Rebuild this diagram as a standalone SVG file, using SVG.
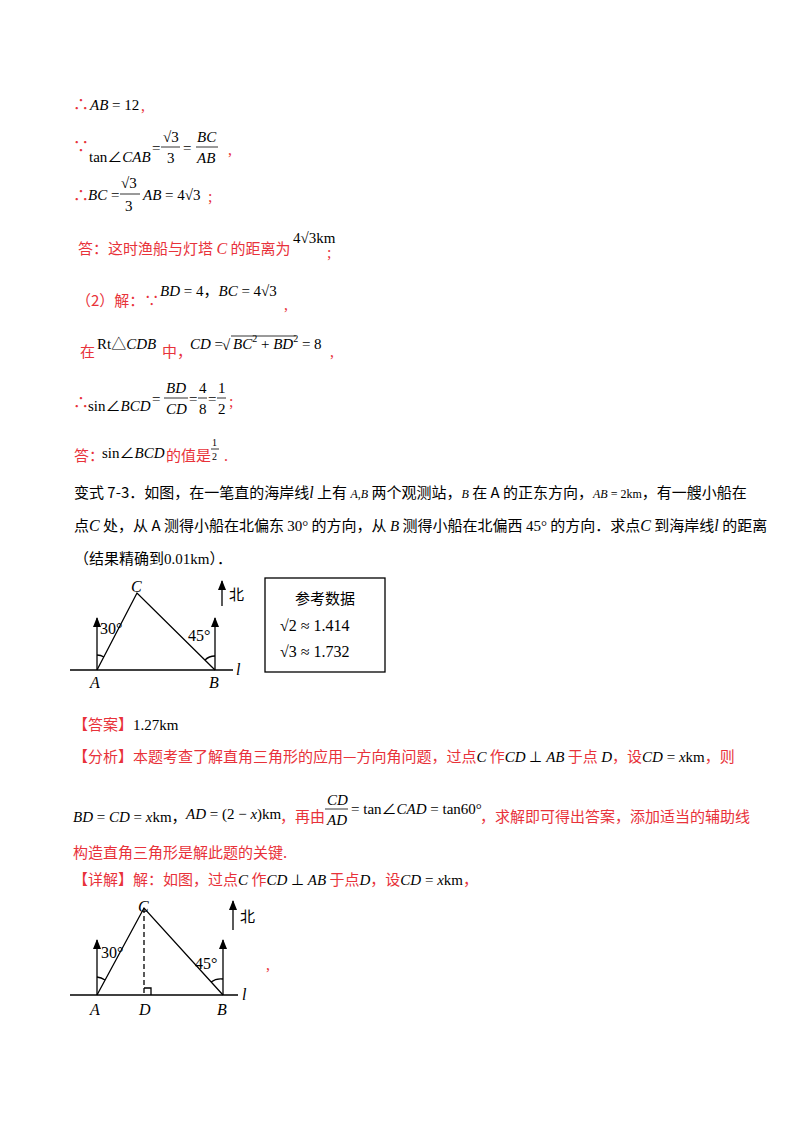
<svg xmlns="http://www.w3.org/2000/svg" width="800" height="1132" viewBox="0 0 800 1132">
<style>
text{font-family:"Liberation Serif","Noto Sans CJK SC",serif;font-size:16px;fill:#000}
.r{fill:#e8323a}
.i{font-style:italic}
.s{font-size:15px}
.k{font-size:10px}
.c{font-family:"Noto Sans CJK SC","Liberation Serif",serif;font-size:15px}
.ln{stroke:#000;stroke-width:1.3;fill:none}
.fb{stroke:#000;stroke-width:0.8}
</style>
<defs><marker id="ah" markerWidth="10" markerHeight="8" refX="9" refY="4" orient="auto" markerUnits="userSpaceOnUse"><path d="M0,0 L10,4 L0,8 Z" fill="#000"/></marker></defs>
<rect width="800" height="1132" fill="#fff"/>
<g id="solution1">
<text x="73" y="110" class="r">∴</text><text x="90" y="110" class="i s">AB</text><text x="112" y="110" class="s">= 12</text><text x="141" y="111" class="r">,</text>
<text x="73" y="152" class="r">∵</text><text x="89" y="162" class="s">tan∠<tspan class="i">CAB</tspan></text>
<text x="152" y="153" class="s">=</text><text x="163" y="142" class="s">√3</text><line x1="161" y1="147" x2="180" y2="147" class="fb"/><text x="167" y="163" class="s">3</text>
<text x="183" y="153" class="s">=</text><text x="197" y="142" class="s i">BC</text><line x1="196" y1="147" x2="218" y2="147" class="fb"/><text x="197" y="163" class="s i">AB</text><text x="228" y="155" class="r">,</text>
<text x="73" y="201" class="r">∴</text><text x="88" y="200" class="s"><tspan class="i">BC</tspan> =</text><text x="121" y="188" class="s">√3</text><line x1="120" y1="194" x2="140" y2="194" class="fb"/><text x="125" y="211" class="s">3</text><text x="143" y="200" class="s"><tspan class="i">AB</tspan> = 4√3</text><text x="208" y="202" class="r">;</text>
<text x="78" y="254" class="r c">答：这时渔船与灯塔 <tspan class="i" font-family="Liberation Serif" font-size="16">C</tspan> 的距离为</text><text x="293" y="243" class="s">4√3km</text><text x="327" y="258" class="r">;</text>
<text x="76" y="306" class="r c">（2）解：∵</text><text x="160" y="296" class="s"><tspan class="i">BD</tspan> = 4，<tspan class="i">BC</tspan> = 4√3</text><text x="284" y="310" class="r">,</text>
<text x="80" y="357" class="r c">在</text><text x="97" y="349" class="s">Rt△<tspan class="i">CDB</tspan></text><text x="162" y="357" class="r c">中，</text>
<text x="190" y="349" class="s"><tspan class="i">CD</tspan> =</text><text x="222" y="350" class="s" font-size="17">√</text><line x1="231" y1="336" x2="296" y2="336" class="fb"/><text x="233" y="349" class="s"><tspan class="i">BC</tspan><tspan class="k" dy="-7">2</tspan><tspan dy="7"> + </tspan><tspan class="i">BD</tspan><tspan class="k" dy="-7">2</tspan><tspan dy="7"> = 8</tspan></text><text x="330" y="357" class="r">,</text>
<text x="73" y="408" class="r">∴</text><text x="88" y="411" class="s">sin∠<tspan class="i">BCD</tspan></text>
<text x="152" y="404" class="s">=</text><text x="166" y="393" class="s i">BD</text><line x1="164" y1="398" x2="188" y2="398" class="fb"/><text x="166" y="414" class="s i">CD</text>
<text x="189" y="404" class="s">=</text><text x="199" y="393" class="s">4</text><line x1="198" y1="398" x2="207" y2="398" class="fb"/><text x="199" y="414" class="s">8</text>
<text x="208" y="404" class="s">=</text><text x="218" y="393" class="s">1</text><line x1="217" y1="398" x2="226" y2="398" class="fb"/><text x="218" y="414" class="s">2</text><text x="229" y="407" class="r">;</text>
<text x="74" y="461" class="r c">答：</text><text x="102" y="458" class="s">sin∠<tspan class="i">BCD</tspan></text><text x="166" y="461" class="r c">的值是</text>
<text x="212" y="446" class="k">1</text><line x1="211" y1="449" x2="219" y2="449" class="fb"/><text x="212" y="460" class="k">2</text><text x="224" y="461" class="r">.</text>
</g>
<g id="problem">
<text x="74" y="498" class="c" font-size="14.5">变式 7-3．如图，在一笔直的海岸线<tspan class="i" font-family="Liberation Serif" font-size="16">l</tspan> 上有 <tspan class="i" font-family="Liberation Serif" font-size="12">A,B</tspan> 两个观测站，<tspan class="i" font-family="Liberation Serif" font-size="12">B</tspan> 在 A 的正东方向，<tspan class="i" font-family="Liberation Serif" font-size="12">AB</tspan><tspan font-family="Liberation Serif" font-size="12"> = 2km</tspan>，有一艘小船在</text>
<text x="74" y="531" class="c" font-size="14.5">点<tspan class="i" font-family="Liberation Serif" font-size="16">C</tspan> 处，从 A 测得小船在北偏东 <tspan font-family="Liberation Serif">30°</tspan> 的方向，从 <tspan class="i" font-family="Liberation Serif">B</tspan> 测得小船在北偏西 <tspan font-family="Liberation Serif">45°</tspan> 的方向．求点<tspan class="i" font-family="Liberation Serif" font-size="16">C</tspan> 到海岸线<tspan class="i" font-family="Liberation Serif" font-size="16">l</tspan> 的距离</text>
<text x="74" y="564" class="c" font-size="14.5">（结果精确到<tspan font-family="Liberation Serif">0.01km</tspan>）．</text>
</g>
<g id="figure1">
<line x1="70" y1="670" x2="233" y2="670" class="ln" stroke-width="2"/>
<polyline points="97,670 137,593 215,670" class="ln"/>
<line x1="97" y1="670" x2="97" y2="618" class="ln" marker-end="url(#ah)"/>
<line x1="215" y1="670" x2="215" y2="618" class="ln" marker-end="url(#ah)"/>
<line x1="222" y1="606" x2="222" y2="581" class="ln" marker-end="url(#ah)"/>
<path d="M97,655 A15,15 0 0 1 104,657" class="ln" stroke-width="1"/>
<path d="M205,660 A14,14 0 0 1 215,656" class="ln" stroke-width="1"/>
<text x="229" y="600" class="c" font-size="16">北</text>
<text x="100" y="634">30°</text><text x="188" y="641">45°</text>
<text x="131" y="592" class="i">C</text><text x="90" y="688" class="i">A</text><text x="209" y="688" class="i">B</text><text x="236" y="675" class="i">l</text>
<rect x="265" y="578" width="120" height="94" fill="none" stroke="#000" stroke-width="1.3"/>
<text x="325" y="604" class="c" text-anchor="middle">参考数据</text>
<text x="280" y="631" font-size="17">√2 ≈ 1.414</text>
<text x="280" y="657" font-size="17">√3 ≈ 1.732</text>
</g>
<g id="answer">
<text x="73" y="730" class="r c">【答案】<tspan fill="#000" font-family="Liberation Serif">1.27km</tspan></text>
<text x="73" y="762" class="r c">【分析】本题考查了解直角三角形的应用—方向角问题，过点<tspan fill="#000" class="i" font-family="Liberation Serif">C</tspan> 作<tspan fill="#000" class="i" font-family="Liberation Serif">CD</tspan><tspan fill="#000" font-family="Liberation Serif"> ⊥ </tspan><tspan fill="#000" class="i" font-family="Liberation Serif">AB</tspan> 于点 <tspan fill="#000" class="i" font-family="Liberation Serif">D</tspan>，设<tspan fill="#000" font-family="Liberation Serif"><tspan class="i">CD</tspan> = <tspan class="i">x</tspan>km</tspan>，则</text>
<text x="73" y="822" class="s"><tspan class="i">BD</tspan> = <tspan class="i">CD</tspan> = <tspan class="i">x</tspan>km，</text>
<text x="186" y="819" class="s"><tspan class="i">AD</tspan> = (2 − <tspan class="i">x</tspan>)km</text><text x="280" y="822" class="r c">，再由</text>
<text x="327" y="805" class="s i">CD</text><line x1="325" y1="809" x2="348" y2="809" class="fb"/><text x="327" y="825" class="s i">AD</text>
<text x="351" y="814" class="s">= tan∠<tspan class="i">CAD</tspan> = tan60°</text><text x="480" y="822" class="r c">，求解即可得出答案，添加适当的辅助线</text>
<text x="73" y="858" class="r c">构造直角三角形是解此题的关键.</text>
<text x="73" y="885" class="r c">【详解】解：如图，过点<tspan fill="#000" class="i" font-family="Liberation Serif">C</tspan> 作<tspan fill="#000" class="i" font-family="Liberation Serif">CD</tspan><tspan fill="#000" font-family="Liberation Serif"> ⊥ </tspan><tspan fill="#000" class="i" font-family="Liberation Serif">AB</tspan> 于点<tspan fill="#000" class="i" font-family="Liberation Serif">D</tspan>，设<tspan fill="#000" font-family="Liberation Serif"><tspan class="i">CD</tspan> = <tspan class="i">x</tspan>km</tspan>，</text>
</g>
<g id="figure2">
<line x1="70" y1="995" x2="238" y2="995" class="ln" stroke-width="2"/>
<polyline points="97,995 144,908 223,995" class="ln"/>
<line x1="144" y1="908" x2="144" y2="995" class="ln" stroke-dasharray="5,3" stroke-width="1"/>
<polyline points="144,988 151,988 151,995" class="ln" stroke-width="1"/>
<line x1="97" y1="995" x2="97" y2="940" class="ln" marker-end="url(#ah)"/>
<line x1="223" y1="995" x2="223" y2="940" class="ln" marker-end="url(#ah)"/>
<line x1="233" y1="930" x2="233" y2="901" class="ln" marker-end="url(#ah)"/>
<path d="M97,977 A18,18 0 0 1 105,980" class="ln" stroke-width="1"/>
<path d="M211,982 A16,16 0 0 1 223,979" class="ln" stroke-width="1"/>
<text x="240" y="922" class="c" font-size="16">北</text>
<text x="101" y="958">30°</text><text x="195" y="969">45°</text>
<text x="138" y="912" class="i">C</text><text x="90" y="1015" class="i">A</text><text x="139" y="1015" class="i">D</text><text x="217" y="1015" class="i">B</text><text x="242" y="1000" class="i">l</text>
<text x="266" y="970" class="r">,</text>
</g>
</svg>
